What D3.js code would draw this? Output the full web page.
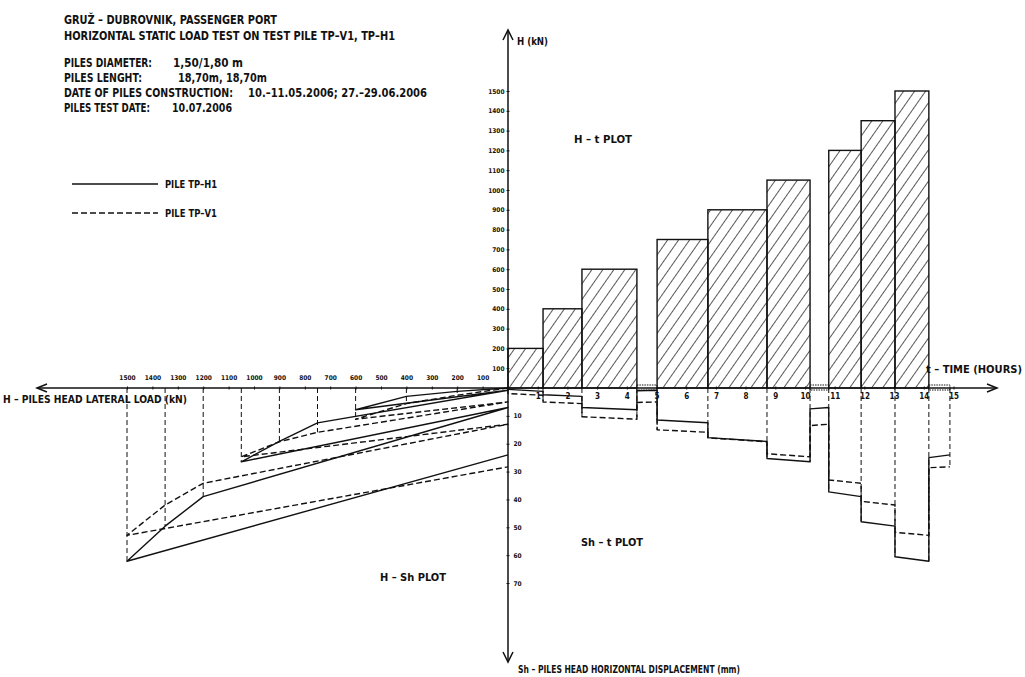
<!DOCTYPE html>
<html lang="en">
<head>
<meta charset="UTF-8">
<title>Horizontal static load test on test pile TP-V1, TP-H1</title>
<script src="https://d3js.org/d3.v7.min.js"></script>
<style>
    body { margin: 0; background: white; }
    text { font-family: "Liberation Sans Narrow", "DejaVu Sans Condensed", sans-serif; fill: #111; }
    .tick text { font-size: 6.5px; font-weight: bold; fill: #111; }
    .tick line { stroke: #111; stroke-width: 1; }
    .axisline { stroke: #111; stroke-width: 1.5; fill: none; }
    .pile { stroke: #111; stroke-width: 1.4; fill: none; stroke-linejoin: round; }
    .v1 { stroke-dasharray: 6,3; }
    .guide { stroke: #111; stroke-width: 1; stroke-dasharray: 5,3; fill: none; }
    .lbl { font-size: 12px; font-weight: bold; }
</style>
</head>
<body>
<svg id="chart"></svg>
<script>
// load stages: boundaries in hours and load held during each stage (kN)
var stageTimes = [0, 1.18, 2.49, 4.34, 5.02, 6.73, 8.72, 10.17, 10.8, 11.89, 13.03, 14.17, 14.88];
var stageLoads = [200, 400, 600, 0, 750, 900, 1050, 0, 1200, 1350, 1500, 0];

// head displacement (mm) at start / end of each stage
var shStartH1 = [0.5, 2.4, 7.0, 1.0, 11.5, 17.8, 25.3, 7.5, 37.3, 48.0, 60.6, 25.0];
var shEndH1   = [1.2, 3.0, 7.8, 0.8, 12.5, 19.2, 26.5, 7.0, 39.0, 49.6, 62.2, 24.0];
var shStartV1 = [2.0, 5.0, 10.3, 5.2, 15.0, 17.9, 23.6, 13.5, 33.0, 40.7, 51.8, 28.6];
var shEndV1   = [2.6, 5.6, 11.2, 5.0, 15.9, 19.3, 24.7, 13.0, 34.2, 42.0, 52.9, 28.3];

var hTicks = [100, 200, 300, 400, 500, 600, 700, 800, 900, 1000, 1100, 1200, 1300, 1400, 1500];
var shTicks = [10, 20, 30, 40, 50, 60, 70];
var timeTicks = [1, 2, 3, 4, 5, 6, 7, 8, 9, 10, 11, 12, 13, 14, 15];

var titleLines = [
    "GRUŽ – DUBROVNIK, PASSENGER PORT",
    "HORIZONTAL STATIC LOAD TEST ON TEST PILE TP–V1, TP–H1"
];
var infoKeys = ["PILES DIAMETER:", "PILES LENGHT:", "DATE OF PILES CONSTRUCTION:", "PILES TEST DATE:"];
var infoValues = ["1,50/1,80 m", "18,70m, 18,70m", "10.–11.05.2006; 27.–29.06.2006", "10.07.2006"];

var svgWidth = 1025, svgHeight = 677;
var ox = 508, oy = 388;

var svg = d3.select("#chart").attr("width", svgWidth).attr("height", svgHeight);

// scales: time to the right, load up and to the left, displacement down
var xs = d3.scaleLinear().domain([0, 15]).range([ox, 953.5]);
var hUp = d3.scaleLinear().domain([0, 1500]).range([oy, 91]);
var hLeft = d3.scaleLinear().domain([0, 1500]).range([ox, 127]);
var ys = d3.scaleLinear().domain([0, 70]).range([oy, 583]);

// hatch for H-t bars
var pat = svg.append("defs").append("pattern")
    .attr("id", "hatch")
    .attr("patternUnits", "userSpaceOnUse")
    .attr("width", 9).attr("height", 9)
    .attr("patternTransform", "rotate(35)");
pat.append("line")
    .attr("x1", 0).attr("y1", 0).attr("x2", 0).attr("y2", 9)
    .attr("stroke", "#111").attr("stroke-width", 1.4);

var stages = stageLoads.map(function(load, i) {
    return {t0: stageTimes[i], t1: stageTimes[i + 1], load: load,
            h1s: shStartH1[i], h1e: shEndH1[i], v1s: shStartV1[i], v1e: shEndV1[i]};
});

// H - t bars
svg.append("g").selectAll("rect")
    .data(stages.filter(function(d) { return d.load > 0; }))
    .enter().append("rect")
        .attr("x", function(d) { return xs(d.t0); })
        .attr("y", function(d) { return hUp(d.load); })
        .attr("width", function(d) { return xs(d.t1) - xs(d.t0); })
        .attr("height", function(d) { return hUp(0) - hUp(d.load); })
        .attr("fill", "url(#hatch)")
        .attr("stroke", "#111")
        .attr("stroke-width", 1.4);

// unloaded periods marked on the time axis
svg.append("g").selectAll("rect")
    .data(stages.filter(function(d) { return d.load == 0; }))
    .enter().append("rect")
        .attr("x", function(d) { return xs(d.t0); })
        .attr("y", oy - 3)
        .attr("width", function(d) { return xs(d.t1) - xs(d.t0); })
        .attr("height", 5)
        .attr("fill", "none")
        .attr("stroke", "#111")
        .attr("stroke-width", 1)
        .attr("stroke-dasharray", "1.5,1");

// Sh - t guides at stage boundaries
var boundaries = [];
for (var i = 1; i < stages.length; i++) {
    var p = stages[i - 1], c = stages[i];
    boundaries.push({t: c.t0, s: Math.max(p.h1e, p.v1e, c.h1s, c.v1s)});
}
var last = stages[stages.length - 1];
boundaries.push({t: last.t1, s: Math.max(last.h1e, last.v1e)});

svg.append("g").selectAll("line")
    .data(boundaries)
    .enter().append("line")
        .attr("class", "guide")
        .attr("x1", function(d) { return xs(d.t); })
        .attr("x2", function(d) { return xs(d.t); })
        .attr("y1", ys(0))
        .attr("y2", function(d) { return ys(d.s); });

// Sh - t curves
function timePoints(sKey, eKey) {
    var pts = [[0, 0]];
    stages.forEach(function(d) {
        pts.push([d.t0, d[sKey]]);
        pts.push([d.t1, d[eKey]]);
    });
    return pts;
}
var tline = d3.line()
    .x(function(d) { return xs(d[0]); })
    .y(function(d) { return ys(d[1]); });

svg.append("path").attr("class", "pile").attr("d", tline(timePoints("h1s", "h1e")));
svg.append("path").attr("class", "pile v1").attr("d", tline(timePoints("v1s", "v1e")));

// H - Sh guides from the load axis down to the largest displacement
svg.append("g").selectAll("line")
    .data(stages.filter(function(d) { return d.load > 0; }))
    .enter().append("line")
        .attr("class", "guide")
        .attr("x1", function(d) { return hLeft(d.load); })
        .attr("x2", function(d) { return hLeft(d.load); })
        .attr("y1", ys(0))
        .attr("y2", function(d) { return ys(Math.max(d.h1e, d.v1e)); });

// H - Sh curves
function loadPoints(eKey) {
    var pts = [[0, 0]];
    stages.forEach(function(d) { pts.push([d.load, d[eKey]]); });
    return pts;
}
var hline = d3.line()
    .x(function(d) { return hLeft(d[0]); })
    .y(function(d) { return ys(d[1]); });

svg.append("path").attr("class", "pile").attr("d", hline(loadPoints("h1e")));
svg.append("path").attr("class", "pile v1").attr("d", hline(loadPoints("v1e")));

// axes lines with open arrow heads
svg.append("line").attr("class", "axisline").attr("x1", 37).attr("x2", 997).attr("y1", oy).attr("y2", oy);
svg.append("line").attr("class", "axisline").attr("x1", ox).attr("x2", ox).attr("y1", 30).attr("y2", 662);
svg.append("path").attr("class", "axisline").attr("d", "M" + (ox - 5) + ",40 L" + ox + ",30 L" + (ox + 5) + ",40");
svg.append("path").attr("class", "axisline").attr("d", "M" + (ox - 5) + ",652 L" + ox + ",662 L" + (ox + 5) + ",652");
svg.append("path").attr("class", "axisline").attr("d", "M47," + (oy - 4) + " L37," + oy + " L47," + (oy + 4));
svg.append("path").attr("class", "axisline").attr("d", "M987," + (oy - 4) + " L997," + oy + " L987," + (oy + 4));

function clean(g) { g.select(".domain").remove(); }
var fmt = d3.format("d");

svg.append("g")
    .attr("transform", "translate(" + (ox + 1.5) + ",0)")
    .call(d3.axisLeft(hUp).tickValues(hTicks).tickFormat(fmt).tickSize(3).tickPadding(2))
    .call(clean);

svg.append("g")
    .attr("transform", "translate(0," + (oy + 1.5) + ")")
    .call(d3.axisTop(hLeft).tickValues(hTicks).tickFormat(fmt).tickSize(3).tickPadding(7))
    .call(clean);

svg.append("g")
    .attr("transform", "translate(0," + (oy - 1.5) + ")")
    .call(d3.axisBottom(xs).tickValues(timeTicks).tickFormat(fmt).tickSize(3).tickPadding(4))
    .call(clean)
    .selectAll("text").style("font-size", "8px");

svg.append("g")
    .attr("transform", "translate(" + (ox - 1.5) + ",0)")
    .call(d3.axisRight(ys).tickValues(shTicks).tickFormat(fmt).tickSize(3).tickPadding(4))
    .call(clean);

// title block
function label(txt, x, y, w, size) {
    var t = svg.append("text")
        .attr("x", x).attr("y", y)
        .attr("class", "lbl")
        .text(txt);
    if (size) t.style("font-size", size + "px");
    if (w) t.attr("textLength", w).attr("lengthAdjust", "spacingAndGlyphs");
    return t;
}

label(titleLines[0], 64, 24, 213, 13);
label(titleLines[1], 64, 40, 331, 13);
var keyW = [88, 78, 169, 86];
var valX = [173, 178, 248, 172];
var valW = [70, 89, 179, 60];
infoKeys.forEach(function(k, i) {
    label(k, 64, 67 + i * 15, keyW[i], 11.5);
    label(infoValues[i], valX[i], 67 + i * 15, valW[i], 11.5);
});

// legend
svg.append("line").attr("class", "pile").attr("x1", 72).attr("x2", 158).attr("y1", 184).attr("y2", 184);
svg.append("line").attr("class", "pile v1").attr("x1", 72).attr("x2", 158).attr("y1", 213).attr("y2", 213);
label("PILE TP–H1", 165, 188, 52, 11);
label("PILE TP–V1", 165, 217, 52, 11);

// axis titles and plot names
label("H (kN)", 517, 45, 31, 11);
label("t – TIME (HOURS)", 926, 373, 96, 11);
label("H – PILES HEAD LATERAL LOAD (kN)", 3, 403, 184, 11);
label("Sh – PILES HEAD HORIZONTAL DISPLACEMENT (mm)", 518, 673, 222, 11);
label("H – t PLOT", 574, 143, 58, 11);
label("Sh – t PLOT", 581, 546, 62, 11);
label("H – Sh PLOT", 380, 581, 66, 11);
</script>
</body>
</html>
